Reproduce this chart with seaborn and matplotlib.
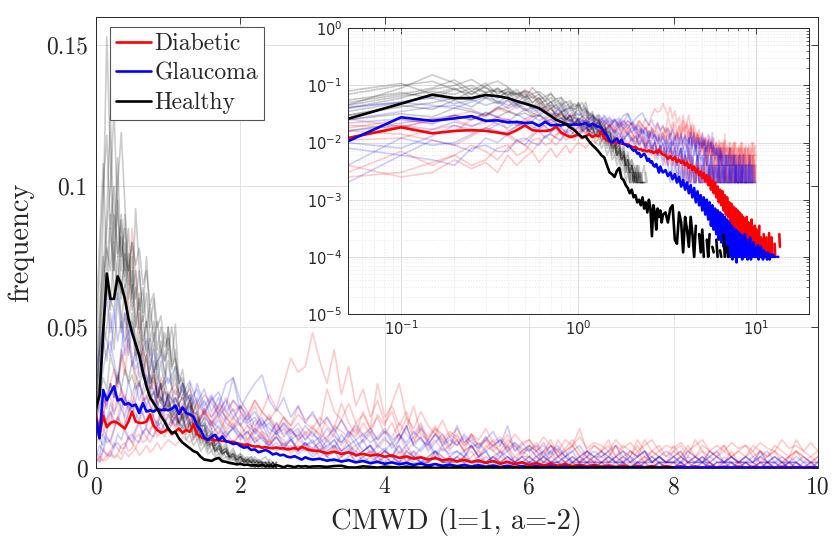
import numpy as np
import matplotlib
matplotlib.use("Agg")
import matplotlib.pyplot as plt
import seaborn as sns
from matplotlib.lines import Line2D
from matplotlib.ticker import LogLocator, FuncFormatter, NullFormatter

# ---------------- data (all values in units of 1e-4) ----------------
SCALE = 1e-4
MEAN_NEAR_STEP = 0.05      # mean curves: x = 0, 0.05, ... 3.0
MEAN_FAR_START, MEAN_FAR_STEP = 3.1, 0.1
FAINT_NEAR_STEP = 0.05     # red / blue faint: x = 0 .. 1.0
FAINT_FAR_START, FAINT_FAR_STEP = 1.1, 0.1
HEALTHY_FAINT_STEP = 0.05  # black faint: x = 0 .. 2.5

labels = ["Diabetic", "Glaucoma", "Healthy"]
colors = ["#ff0000", "#0000ff", "#000000"]

diabetic_mean_near = [190, 120, 185, 145, 160, 165, 160, 150, 140, 165,
                      200, 165, 160, 160, 165, 190, 150, 135, 125, 130,
                      140, 120, 130, 140, 125, 135, 128, 155, 120, 110,
                      105, 100, 102, 98, 100, 96, 95, 92, 93, 88,
                      85, 82, 84, 79, 76, 77, 72, 74, 71, 70,
                      73, 69, 70, 66, 68, 71, 66, 75, 70, 64, 62]
diabetic_mean_far = [60, 52, 58, 50, 56, 46, 50, 44, 48, 40,
                     45, 36, 41, 33, 38, 30, 35, 27, 31, 24,
                     29, 21, 27, 18, 25, 15, 22, 13, 20, 11,
                     17, 9, 15, 8, 14, 6.5, 12, 5.5, 11, 5,
                     9, 4, 8.5, 3.5, 7.5, 3, 7, 2.5, 6.5, 2.2,
                     6, 2, 5.5, 1.8, 5, 1.5, 4.5, 1.4, 5, 1.2,
                     4, 1.2, 3.5, 1.1, 4.5, 1, 3, 1, 3.5, 1,
                     3, 1, 2.5, 1, 3.5, 0, 2.2, 1, 2, 0,
                     2.5, 1, 1.8, 0, 2.2, 1, 1.5, 0, 2.6, 1,
                     1.5, 0, 2.2, 1.1, 0, 1.3, 0, 1.7, 1, 0,
                     1.5, 0, 1.2, 0, 0, 2.5, 1.5, 0, 0, 1.2,
                     0, 0, 0, 1.5, 0, 0, 0, 1.2]

glaucoma_mean_near = [175, 105, 277, 240, 265, 290, 240, 245, 225, 230,
                      220, 225, 195, 230, 200, 205, 200, 210, 205, 208,
                      205, 210, 222, 192, 215, 195, 190, 182, 150, 135,
                      108, 100, 110, 118, 98, 112, 95, 92, 85, 88,
                      78, 72, 75, 64, 66, 56, 60, 64, 58, 48,
                      52, 45, 47, 40, 38, 42, 36, 30, 38, 33, 30]
glaucoma_mean_far = [33, 26, 30, 23, 28, 20, 25, 17, 22, 15,
                     20, 13, 18, 11, 16, 9, 14, 8, 12, 6.5,
                     11, 5.5, 10, 4.5, 9, 3.5, 8, 3, 7, 2.5,
                     6.5, 2, 6, 1.8, 5.5, 1.5, 5, 1.2, 4.5, 1,
                     4, 1, 3.5, 0.9, 3.2, 1, 3, 0.8, 2.8, 1,
                     2.6, 1, 2.4, 0.9, 2.2, 1, 2.5, 1, 2, 0.9,
                     1.8, 1, 2.2, 0.9, 1.6, 1, 1.8, 1, 1.5, 1,
                     1.4, 1, 1.6, 0.9, 1.3, 1, 1.5, 1, 1.2, 0.9,
                     1.3, 1, 1.2, 1, 1.1, 0.9, 1.2, 1, 1, 0.9,
                     1.1, 1, 0, 1, 1.1, 1, 0, 1, 1, 0,
                     1, 0, 1, 1, 0, 1, 0, 0, 1, 0]

healthy_mean_near = [210, 260, 480, 690, 600, 600, 680, 650, 600, 530,
                     480, 440, 400, 340, 290, 250, 230, 210, 185, 165,
                     140, 125, 128, 105, 90, 80, 70, 60, 55, 40,
                     30, 28, 25, 32, 36, 24, 22, 18, 16, 13,
                     15, 11, 12, 9, 10, 8, 11, 7, 9, 6,
                     10, 7, 2.3, 8, 6, 3, 7, 5, 6.5, 4, 5.5]
healthy_mean_far = [6, 4, 7, 8, 2, 1.7, 6, 4, 1.2, 5,
                    3, 1.5, 5, 2.5, 1, 3.5, 0, 2.5, 1.2, 3,
                    1, 0, 2, 1, 2.5, 0, 1.5, 1.2, 0, 2,
                    1, 0, 1.3, 1, 0, 2.5, 1, 0, 1.5, 1,
                    0, 1.2, 0, 1, 0, 0, 1.4, 0, 1, 0]

diabetic_faint_near = [
    [150, 110, 120, 170, 200, 150, 180, 240, 260, 200, 220, 280, 300, 240, 250, 290, 280, 230, 320, 270, 260],
    [80, 120, 200, 150, 150, 260, 300, 380, 420, 600, 850, 700, 500, 420, 380, 320, 300, 260, 250, 230, 220],
    [40, 25, 30, 45, 60, 40, 50, 80, 90, 60, 70, 110, 120, 90, 100, 140, 150, 110, 130, 160, 180],
    [300, 200, 180, 260, 250, 200, 220, 280, 160, 190, 240, 210, 200, 240, 260, 220, 180, 150, 220, 180, 150],
    [100, 160, 140, 110, 90, 130, 180, 150, 130, 100, 110, 140, 170, 200, 140, 120, 200, 240, 160, 190, 190],
    [220, 260, 190, 240, 300, 270, 230, 280, 250, 210, 260, 230, 200, 250, 220, 190, 240, 210, 180, 220, 200],
    [50, 30, 70, 40, 60, 90, 70, 50, 80, 110, 90, 70, 100, 130, 110, 90, 120, 150, 130, 110, 140],
    [120, 180, 250, 220, 300, 350, 280, 400, 330, 450, 380, 300, 360, 420, 320, 280, 340, 260, 300, 240, 210],
    [20, 40, 25, 30, 50, 35, 45, 30, 60, 40, 55, 70, 45, 60, 80, 55, 70, 90, 65, 85, 100],
]
diabetic_faint_far = [
    [300, 240, 280, 210, 260, 230, 190, 250, 200,
     220, 180, 240, 200, 260, 210, 300, 390, 340, 360,
     480, 380, 300, 420, 260, 360, 220, 280, 180, 240,
     160, 200, 120, 180, 100, 140, 80, 120, 100, 60,
     100, 60, 80, 40, 80, 60, 40, 80, 20, 60,
     40, 60, 20, 40, 60, 20, 40, 20, 40, 20,
     40, 20, 20, 40, 20, 60, 20, 20, 40, 20,
     20, 40, 20, 20, 40, 20, 0, 20, 40, 20,
     20, 0, 40, 20, 20, 0, 40, 20, 0, 20, 20],
    [280, 180, 240, 150, 200, 160, 120, 180, 140,
     160, 100, 140, 120, 80, 120, 100, 60, 100, 80,
     60, 100, 40, 80, 60, 100, 40, 60, 80, 20,
     60, 40, 80, 20, 60, 40, 20, 60, 20, 40,
     20, 40, 60, 20, 20, 40, 20, 40, 20, 20,
     40, 20, 20, 40, 20, 0, 20, 40, 20, 20,
     20, 40, 20, 0, 20, 20, 40, 20, 0, 20,
     20, 0, 20, 40, 20, 0, 20, 20, 0, 20,
     0, 20, 0, 20, 0, 0, 20, 0, 0, 20, 0],
    [140, 200, 170, 230, 190, 250, 210, 180, 240,
     200, 170, 220, 150, 190, 140, 180, 130, 160, 120,
     150, 110, 180, 140, 230, 160, 120, 200, 140, 180,
     120, 160, 100, 140, 220, 120, 100, 140, 80, 120,
     100, 60, 120, 80, 100, 60, 80, 120, 60, 80,
     100, 60, 80, 40, 100, 60, 80, 140, 60, 80,
     60, 100, 40, 80, 60, 40, 100, 60, 80, 40,
     60, 80, 40, 100, 60, 40, 60, 80, 40, 60,
     80, 40, 60, 40, 80, 60, 40, 100, 60, 40, 60],
    [200, 120, 170, 140, 100, 160, 110, 130, 90,
     120, 80, 110, 70, 100, 60, 90, 50, 80, 60,
     70, 40, 60, 80, 40, 60, 20, 40, 60, 20,
     40, 20, 60, 20, 40, 20, 20, 40, 20, 20,
     20, 40, 20, 20, 20, 0, 40, 20, 20, 20,
     0, 20, 40, 20, 20, 0, 20, 20, 40, 0,
     20, 20, 0, 20, 0, 20, 20, 0, 20, 0,
     0, 20, 20, 0, 0, 20, 0, 0, 20, 20,
     0, 0, 20, 0, 0, 0, 20, 0, 0, 0, 0],
    [150, 210, 170, 140, 200, 160, 220, 180, 150,
     190, 160, 140, 200, 170, 130, 180, 150, 220, 170,
     190, 150, 280, 200, 170, 230, 160, 190, 140, 300,
     180, 220, 150, 200, 120, 160, 100, 140, 120, 80,
     120, 80, 100, 60, 100, 80, 60, 100, 80, 40,
     80, 60, 40, 80, 60, 40, 80, 40, 60, 20,
     60, 40, 80, 20, 60, 40, 20, 60, 40, 20,
     40, 60, 20, 40, 60, 20, 40, 20, 60, 20,
     40, 20, 60, 20, 40, 20, 40, 60, 20, 40, 20],
    [170, 230, 180, 150, 210, 160, 190, 140, 180,
     150, 120, 170, 130, 110, 160, 120, 140, 100, 130,
     110, 150, 90, 120, 80, 110, 140, 90, 120, 70,
     100, 80, 120, 60, 90, 110, 70, 100, 60, 80,
     100, 60, 80, 40, 70, 100, 50, 80, 40, 60,
     80, 40, 60, 100, 40, 60, 80, 40, 60, 40,
     60, 80, 40, 60, 40, 80, 40, 60, 40, 20,
     60, 40, 80, 40, 20, 60, 40, 80, 40, 20,
     40, 60, 20, 40, 60, 40, 20, 60, 40, 20, 40],
    [170, 150, 190, 160, 210, 180, 230, 200, 170,
     220, 190, 240, 200, 170, 210, 180, 150, 190, 160,
     140, 180, 150, 120, 170, 130, 110, 160, 120, 190,
     150, 230, 300, 180, 140, 200, 150, 120, 170, 110,
     140, 90, 120, 80, 110, 70, 100, 60, 90, 70,
     60, 90, 50, 80, 40, 70, 100, 60, 40, 80,
     60, 40, 80, 60, 40, 100, 60, 40, 60, 40,
     80, 40, 60, 40, 80, 60, 40, 60, 40, 60,
     40, 80, 60, 40, 60, 20, 40, 60, 40, 20, 40],
    [250, 190, 230, 170, 200, 150, 180, 130, 160,
     120, 150, 100, 130, 90, 110, 80, 100, 70, 90,
     60, 80, 50, 70, 40, 60, 80, 40, 60, 40,
     60, 40, 20, 60, 40, 40, 20, 60, 40, 20,
     40, 20, 40, 60, 20, 40, 20, 40, 20, 40,
     20, 40, 20, 20, 40, 20, 40, 20, 20, 40,
     20, 20, 40, 20, 0, 20, 40, 20, 20, 0,
     20, 40, 20, 0, 20, 20, 0, 40, 20, 0,
     20, 0, 20, 20, 0, 20, 0, 20, 0, 0, 20],
    [80, 110, 90, 120, 100, 80, 130, 110, 90,
     120, 100, 140, 110, 90, 130, 150, 110, 130, 100,
     140, 120, 100, 150, 130, 110, 160, 120, 140, 100,
     130, 110, 160, 120, 90, 140, 110, 150, 100, 130,
     110, 80, 120, 100, 140, 90, 110, 80, 120, 90,
     100, 70, 110, 80, 60, 100, 80, 110, 70, 90,
     80, 60, 100, 70, 90, 60, 80, 100, 60, 80,
     70, 90, 60, 80, 100, 60, 80, 60, 90, 70,
     80, 60, 90, 70, 60, 100, 70, 80, 60, 90, 60],
]

glaucoma_faint_near = [
    [200, 250, 350, 420, 450, 380, 300, 400, 550, 480, 400, 350, 380, 330, 300, 350, 420, 330, 280, 300, 320],
    [60, 40, 120, 90, 100, 140, 180, 160, 150, 200, 220, 190, 170, 230, 250, 220, 200, 260, 230, 210, 270],
    [350, 420, 500, 450, 400, 520, 620, 540, 450, 480, 520, 450, 380, 420, 460, 400, 340, 380, 400, 350, 300],
    [150, 100, 80, 130, 200, 170, 160, 210, 250, 220, 190, 240, 300, 260, 220, 250, 270, 230, 200, 220, 240],
    [30, 20, 60, 50, 40, 80, 90, 70, 70, 110, 120, 100, 90, 130, 140, 120, 110, 150, 160, 140, 130],
    [250, 400, 520, 600, 480, 560, 450, 520, 400, 460, 360, 420, 320, 380, 290, 330, 260, 300, 240, 270, 220],
    [180, 220, 260, 210, 300, 250, 340, 280, 230, 310, 260, 300, 240, 280, 330, 270, 230, 290, 250, 220, 260],
    [40, 80, 60, 110, 90, 70, 120, 100, 140, 110, 90, 130, 160, 120, 150, 180, 140, 170, 130, 160, 190],
    [120, 160, 200, 170, 230, 190, 250, 210, 180, 240, 200, 170, 220, 190, 160, 210, 180, 150, 200, 170, 150],
]
glaucoma_faint_far = [
    [260, 300, 240, 280, 200, 250, 180, 220, 320,
     200, 160, 180, 140, 160, 120, 140, 100, 120, 80,
     100, 60, 80, 100, 60, 80, 40, 60, 80, 40,
     60, 40, 20, 60, 40, 20, 40, 60, 20, 40,
     20, 40, 20, 20, 40, 20, 20, 40, 20, 20,
     20, 20, 40, 20, 20, 20, 0, 20, 20, 20,
     0, 20, 20, 20, 0, 20, 20, 0, 20, 20,
     20, 20, 0, 20, 20, 0, 20, 20, 0, 20,
     20, 0, 20, 20, 0, 20, 0, 0, 0, 0, 0],
    [210, 250, 190, 300, 220, 260, 200, 240, 180,
     220, 170, 200, 150, 180, 130, 160, 120, 140, 100,
     130, 90, 110, 140, 90, 120, 80, 100, 130, 80,
     110, 70, 100, 150, 80, 110, 60, 90, 120, 70,
     150, 90, 110, 70, 100, 130, 80, 150, 60, 90,
     60, 80, 40, 60, 80, 40, 60, 20, 60, 40,
     60, 20, 40, 60, 20, 40, 60, 20, 40, 20,
     40, 60, 20, 40, 20, 60, 40, 20, 40, 20,
     40, 20, 60, 20, 40, 20, 20, 40, 20, 20, 0],
    [360, 260, 310, 230, 280, 200, 250, 170, 210,
     150, 190, 120, 160, 100, 130, 80, 110, 60, 90,
     50, 70, 40, 60, 20, 40, 60, 20, 40, 20,
     40, 20, 20, 40, 20, 20, 20, 40, 20, 20,
     20, 20, 0, 20, 20, 0, 20, 20, 20, 0,
     20, 20, 0, 20, 20, 0, 20, 0, 20, 0,
     20, 0, 20, 0, 0, 20, 0, 0, 20, 0,
     0, 20, 0, 0, 0, 20, 0, 0, 0, 0,
     0, 0, 0, 0, 0, 0, 0, 0, 0, 0, 0],
    [180, 220, 260, 200, 240, 180, 220, 300, 320,
     240, 200, 150, 180, 120, 160, 110, 140, 100, 120,
     90, 110, 70, 100, 60, 80, 100, 60, 80, 50,
     70, 40, 100, 150, 80, 60, 90, 40, 70, 50,
     60, 40, 80, 40, 60, 20, 40, 60, 20, 40,
     20, 40, 20, 60, 20, 40, 20, 20, 40, 20,
     20, 20, 40, 20, 20, 0, 20, 40, 20, 20,
     20, 0, 20, 20, 40, 0, 20, 20, 20, 0,
     20, 20, 0, 20, 20, 0, 20, 20, 0, 0, 0],
    [180, 150, 200, 160, 130, 170, 140, 110, 150,
     120, 90, 130, 100, 80, 110, 70, 100, 60, 80,
     90, 60, 100, 70, 120, 80, 60, 100, 50, 80,
     60, 90, 50, 80, 40, 70, 100, 50, 80, 40,
     60, 40, 80, 40, 60, 20, 60, 40, 20, 40,
     40, 20, 60, 20, 40, 20, 40, 20, 20, 40,
     20, 40, 20, 20, 40, 20, 20, 40, 20, 20,
     20, 40, 20, 20, 20, 20, 40, 20, 20, 20,
     20, 20, 40, 20, 20, 0, 20, 20, 0, 20, 0],
    [250, 190, 220, 160, 190, 140, 170, 120, 140,
     110, 130, 90, 110, 70, 90, 60, 80, 50, 70,
     40, 60, 40, 20, 40, 60, 20, 40, 20, 40,
     20, 40, 20, 20, 40, 20, 20, 40, 20, 20,
     40, 20, 20, 0, 20, 40, 20, 20, 0, 20,
     20, 0, 20, 20, 0, 20, 20, 0, 20, 0,
     20, 0, 0, 20, 0, 20, 0, 0, 20, 0,
     0, 20, 0, 0, 20, 0, 0, 0, 20, 0,
     0, 0, 0, 20, 0, 0, 0, 0, 0, 0, 0],
    [230, 280, 210, 250, 190, 240, 270, 200, 240,
     210, 260, 300, 330, 240, 200, 250, 180, 220, 160,
     200, 150, 180, 130, 170, 120, 150, 110, 140, 100,
     130, 90, 120, 80, 110, 150, 90, 120, 80, 100,
     80, 110, 70, 90, 60, 80, 100, 60, 80, 50,
     70, 40, 60, 80, 40, 60, 20, 40, 60, 40,
     40, 60, 20, 40, 20, 40, 60, 20, 40, 20,
     40, 20, 40, 20, 20, 40, 20, 20, 40, 20,
     20, 40, 20, 20, 40, 20, 20, 20, 40, 20, 20],
    [150, 190, 160, 130, 180, 150, 200, 160, 140,
     180, 150, 130, 170, 140, 120, 160, 130, 110, 150,
     120, 100, 140, 110, 90, 130, 100, 120, 90, 110,
     140, 100, 120, 90, 130, 100, 80, 120, 90, 110,
     80, 120, 90, 70, 110, 80, 100, 70, 90, 60,
     80, 60, 90, 50, 70, 40, 60, 80, 40, 60,
     40, 60, 80, 40, 60, 40, 60, 20, 40, 60,
     40, 20, 60, 40, 20, 40, 60, 20, 40, 20,
     40, 20, 40, 60, 20, 40, 20, 0, 20, 0, 20],
    [180, 140, 170, 130, 160, 120, 150, 110, 140,
     100, 130, 90, 120, 80, 110, 70, 100, 60, 90,
     70, 90, 60, 80, 50, 70, 40, 60, 80, 40,
     60, 40, 80, 40, 60, 20, 40, 60, 40, 20,
     40, 60, 20, 40, 20, 40, 60, 20, 40, 20,
     40, 20, 40, 20, 20, 40, 20, 40, 20, 20,
     20, 40, 20, 20, 40, 0, 20, 20, 40, 20,
     20, 20, 0, 20, 40, 20, 0, 20, 20, 0,
     20, 0, 20, 0, 20, 20, 0, 20, 0, 0, 0],
]

healthy_faint = [
    [200, 450, 900, 1530, 1100, 700, 950, 600, 800, 500,
     650, 420, 550, 380, 450, 300, 380, 250, 300, 200,
     260, 180, 220, 150, 190, 120, 160, 100, 130, 80,
     100, 60, 90, 50, 70, 40, 60, 30, 50, 20,
     40, 20, 30, 40, 20, 30, 20, 0, 30, 20, 0],
    [300, 500, 700, 900, 1250, 800, 1100, 700, 900, 650,
     750, 500, 620, 420, 520, 350, 450, 300, 380, 280,
     500, 350, 420, 250, 300, 200, 250, 160, 200, 130,
     160, 100, 130, 80, 100, 60, 80, 40, 60, 40,
     50, 30, 40, 20, 40, 20, 30, 40, 20, 0, 20],
    [150, 350, 500, 650, 560, 800, 600, 900, 700, 850,
     600, 920, 700, 550, 750, 500, 600, 420, 500, 380,
     420, 300, 360, 250, 300, 200, 240, 150, 180, 120,
     140, 90, 110, 60, 80, 50, 60, 30, 40, 30,
     40, 20, 30, 20, 0, 20, 20, 0, 20, 0, 20],
    [500, 800, 1080, 700, 900, 600, 750, 500, 650, 450,
     550, 400, 480, 350, 400, 300, 330, 250, 280, 200,
     230, 160, 190, 130, 150, 100, 120, 80, 100, 60,
     80, 50, 60, 40, 50, 30, 40, 20, 30, 20,
     20, 30, 20, 0, 20, 20, 0, 20, 0, 20, 0],
    [250, 400, 600, 850, 1000, 1270, 900, 750, 850, 600,
     700, 500, 600, 450, 520, 400, 480, 350, 420, 380,
     500, 380, 510, 300, 350, 250, 300, 200, 240, 150,
     180, 120, 140, 90, 110, 70, 90, 50, 70, 40,
     50, 40, 30, 40, 20, 30, 20, 20, 0, 20, 0],
    [200, 300, 450, 380, 550, 420, 600, 480, 550, 400,
     500, 380, 450, 320, 400, 280, 350, 250, 300, 220,
     260, 190, 220, 160, 190, 130, 160, 110, 130, 90,
     110, 70, 90, 60, 70, 50, 60, 40, 50, 30,
     40, 30, 20, 30, 20, 0, 20, 20, 0, 20, 0],
    [350, 550, 750, 600, 850, 700, 1000, 1190, 940, 700,
     800, 600, 700, 520, 620, 450, 520, 380, 450, 320,
     380, 280, 330, 220, 260, 180, 220, 140, 170, 110,
     130, 80, 100, 60, 80, 50, 60, 40, 40, 20,
     30, 20, 20, 30, 0, 20, 20, 0, 20, 0, 0],
    [150, 250, 320, 280, 400, 350, 300, 420, 360, 310,
     380, 330, 290, 350, 300, 260, 320, 270, 230, 280,
     240, 200, 250, 210, 170, 200, 160, 130, 150, 110,
     120, 90, 100, 70, 80, 60, 70, 40, 50, 30,
     40, 20, 30, 20, 20, 0, 20, 20, 0, 20, 0],
    [250, 450, 650, 780, 700, 900, 750, 820, 680, 760,
     620, 700, 560, 640, 500, 580, 450, 520, 400, 480,
     420, 500, 380, 330, 300, 260, 240, 200, 190, 150,
     150, 110, 120, 80, 90, 60, 70, 40, 50, 30,
     40, 30, 20, 20, 30, 20, 0, 20, 0, 20, 0],
    [400, 700, 1000, 1180, 850, 1000, 760, 880, 640, 720,
     560, 640, 480, 540, 400, 460, 340, 380, 280, 320,
     240, 280, 200, 230, 160, 190, 130, 150, 100, 120,
     80, 100, 60, 80, 50, 60, 40, 40, 30, 30,
     20, 30, 20, 20, 0, 20, 20, 0, 0, 20, 0],
    [180, 300, 420, 500, 600, 560, 680, 620, 760, 700,
     800, 720, 780, 650, 700, 580, 620, 500, 540, 430,
     460, 360, 390, 300, 320, 240, 260, 190, 200, 150,
     150, 110, 120, 80, 90, 60, 70, 50, 50, 40,
     40, 30, 30, 20, 30, 20, 20, 0, 20, 0, 20],
    [100, 160, 220, 260, 300, 250, 330, 280, 350, 300,
     330, 280, 310, 260, 290, 240, 270, 220, 250, 200,
     220, 180, 200, 160, 180, 140, 160, 120, 140, 100,
     110, 80, 90, 60, 70, 50, 60, 40, 40, 30,
     30, 20, 30, 20, 20, 20, 0, 20, 20, 0, 20],
]


def two_part(near, far, near_step, far_start, far_step):
    xn = near_step * np.arange(len(near))
    xf = far_start + far_step * np.arange(len(far))
    x = np.round(np.concatenate([xn, xf]), 3)
    y = np.asarray(list(near) + list(far), dtype=float) * SCALE
    return x, y


faint_sets = []
for near_list, far_list, c in [(diabetic_faint_near, diabetic_faint_far, colors[0]),
                               (glaucoma_faint_near, glaucoma_faint_far, colors[1])]:
    for n, f in zip(near_list, far_list):
        x, y = two_part(n, f, FAINT_NEAR_STEP, FAINT_FAR_START, FAINT_FAR_STEP)
        faint_sets.append((x, y, c))
for h in healthy_faint:
    x = np.round(HEALTHY_FAINT_STEP * np.arange(len(h)), 3)
    faint_sets.append((x, np.asarray(h, dtype=float) * SCALE, colors[2]))

mean_sets = []
for n, f, c in [(diabetic_mean_near, diabetic_mean_far, colors[0]),
                (glaucoma_mean_near, glaucoma_mean_far, colors[1]),
                (healthy_mean_near, healthy_mean_far, colors[2])]:
    x, y = two_part(n, f, MEAN_NEAR_STEP, MEAN_FAR_START, MEAN_FAR_STEP)
    mean_sets.append((x, y, c))

# ---------------- styling ----------------
sns.set_theme(style="white")
plt.rcParams["font.family"] = "cmr10"
plt.rcParams["axes.unicode_minus"] = False
plt.rcParams["mathtext.fontset"] = "dejavusans"
plt.rcParams["axes.formatter.use_mathtext"] = True

SPINE = "#262626"
fig = plt.figure(figsize=(8.33, 5.40), dpi=100)
ax = fig.add_axes([0.1152, 0.1333, 0.8667, 0.8352])

FAINT_ALPHA = 0.2
FAINT_LW = 1.2
MEAN_LW = 1.9
for x, y, c in faint_sets:
    sns.lineplot(x=x, y=y, ax=ax, color=c, alpha=FAINT_ALPHA, linewidth=FAINT_LW,
                 legend=False, estimator=None, sort=False)
for x, y, c in mean_sets:
    sns.lineplot(x=x, y=y, ax=ax, color=c, linewidth=MEAN_LW,
                 legend=False, estimator=None, sort=False)

ax.set_xlim(0, 10)
ax.set_ylim(0, 0.16)
ax.set_xticks([0, 2, 4, 6, 8, 10])
ax.set_xticklabels(["0", "2", "4", "6", "8", "10"])
ax.set_yticks([0, 0.05, 0.1, 0.15])
ax.set_yticklabels(["0", "0.05", "0.1", "0.15"])
ax.tick_params(direction="in", top=True, right=True, length=5, width=0.6,
               color=SPINE, labelsize=17, pad=6)
ax.grid(True, color="#e3e3e3", linewidth=0.7)
ax.set_axisbelow(True)
for s in ax.spines.values():
    s.set_color(SPINE)
    s.set_linewidth(0.7)
ax.set_xlabel("CMWD (l=1, a=-2)", fontsize=20.5, labelpad=6)
ax.set_ylabel("frequency", fontsize=20.5, labelpad=8)

handles = [Line2D([], [], color=c, linewidth=MEAN_LW) for c in colors]
leg = ax.legend(handles, labels, loc="upper left", bbox_to_anchor=(0.019, 0.977),
                borderaxespad=0, fontsize=17, frameon=True, fancybox=False,
                framealpha=1, edgecolor="#555555", handlelength=1.5,
                handletextpad=0.15, labelspacing=0.3, borderpad=0.25)
leg.get_frame().set_linewidth(0.8)

# ---------------- inset (log-log) ----------------
axi = fig.add_axes([0.4174, 0.4185, 0.5538, 0.5291])
axi.set_facecolor("white")


def masked(x, y):
    xm = np.where(x > 0, x, np.nan)
    ym = np.where(y > 0, y, np.nan)
    return xm, ym


for x, y, c in faint_sets:
    xm, ym = masked(x, y)
    axi.plot(xm, ym, color=c, alpha=FAINT_ALPHA, linewidth=FAINT_LW)
for x, y, c in mean_sets:
    xm, ym = masked(x, y)
    axi.plot(xm, ym, color=c, linewidth=MEAN_LW)

axi.set_xscale("log")
axi.set_yscale("log")
axi.set_xlim(0.05, 20)
axi.set_ylim(1e-5, 1)
axi.xaxis.set_major_locator(LogLocator(base=10, numticks=10))
axi.yaxis.set_major_locator(LogLocator(base=10, numticks=10))
axi.xaxis.set_minor_locator(LogLocator(base=10, subs=np.arange(2, 10), numticks=20))
axi.yaxis.set_minor_locator(LogLocator(base=10, subs=np.arange(2, 10), numticks=20))
fmt = FuncFormatter(lambda v, p: r"$10^{%d}$" % int(round(np.log10(v))))
axi.xaxis.set_major_formatter(fmt)
axi.yaxis.set_major_formatter(fmt)
axi.xaxis.set_minor_formatter(NullFormatter())
axi.yaxis.set_minor_formatter(NullFormatter())
axi.tick_params(which="major", direction="in", top=True, right=True, length=4,
                width=0.6, color=SPINE, labelsize=10.5, pad=4)
axi.tick_params(which="minor", direction="in", top=True, right=True, length=2,
                width=0.5, color=SPINE)
axi.grid(True, which="major", color="#dcdcdc", linewidth=0.7)
axi.grid(True, which="minor", color="#e6e6e6", linewidth=0.5, linestyle=(0, (2, 2)))
axi.set_axisbelow(True)
for s in axi.spines.values():
    s.set_color(SPINE)
    s.set_linewidth(0.7)

fig.savefig("out.png", dpi=100)
